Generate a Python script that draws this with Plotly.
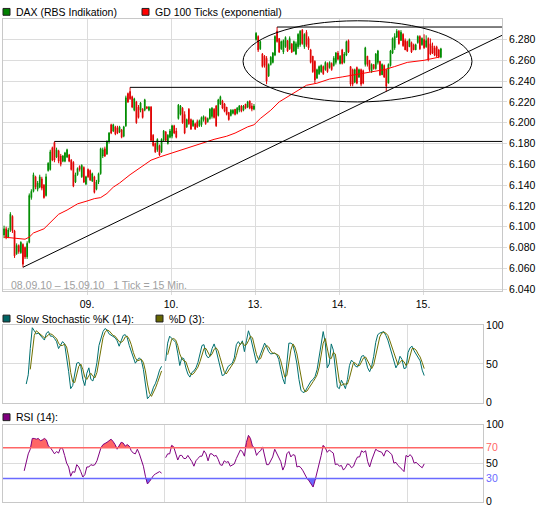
import plotly.graph_objects as go

W, H = 545, 516
FONT = "Liberation Sans, Arial, sans-serif"
GRID = "#dcdcdc"
FRAME = "#c8c8c8"
GREEN = "#008c00"
RED = "#e00000"

# 15 minute ticks, slot 0 = first tick of 08.09.10, 40 slots per trading day
opens = [
    6092, 6098, 6090, 6097, 6110, 6096, 6074, 6082, 6075, 6083,
    6080, 6071, 6085, 6128, 6134, 6148, 6136, 6138, 6146, 6140,
    6130, 6154, 6155, 6176, 6181, 6167, 6173, 6168, 6163, 6163,
    6167, 6169, 6164, 6162, 6143, 6150, 6158, 6148, 6157, 6141,
    6155, 6154, 6144, 6148, 6136, 6143, 6151, 6168, 6175, 6170,
    6182, 6198, 6192, 6196, 6195, 6191, 6193, 6187, 6197, 6228,
    6230, 6225, 6212, 6220, 6215, 6212, 6213, 6212, 6215, 6212,
    6215, 6188, 6180, 6174, 6178, 6172, 6183, 6191, 6180, 6186,
    6187, 6197, 6192, 6204, 6208, 6214, 6208, 6196, 6213, 6203,
    6197, 6199, 6201, 6197, 6198, 6203, 6205, 6201, 6204, 6206,
    6213, 6216, 6207, 6218, 6221, 6218, 6215, 6210, 6207, 6209,
    6213, 6209, 6212, 6216, 6212, 6218, 6215, 6221, 6216, 6213,
    6280, 6283, 6271, 6266, 6264, 6262, 6245, 6256, 6258, 6265,
    6288, 6281, 6271, 6268, 6273, 6279, 6271, 6276, 6269, 6266,
    6273, 6275, 6289, 6273, 6287, 6281, 6270, 6264, 6259, 6243,
    6247, 6249, 6254, 6251, 6257, 6253, 6257, 6255, 6258, 6267,
    6257, 6270, 6258, 6265, 6279, 6254, 6251, 6239, 6253, 6244,
    6251, 6250, 6256, 6264, 6260, 6249, 6256, 6252, 6258, 6259,
    6246, 6255, 6251, 6238, 6255, 6267, 6272, 6282, 6288, 6279,
    6285, 6279, 6278, 6273, 6277, 6275, 6270, 6277, 6283, 6275,
    6280, 6273, 6281, 6276, 6274, 6272, 6273, 6270, 6263,
]
highs = [
    6101, 6100, 6099, 6114, 6111, 6097, 6084, 6083, 6086, 6084,
    6081, 6086, 6132, 6136, 6152, 6149, 6144, 6150, 6148, 6141,
    6151, 6162, 6174, 6177, 6182, 6176, 6174, 6170, 6169, 6172,
    6175, 6170, 6165, 6163, 6152, 6157, 6159, 6160, 6158, 6149,
    6156, 6155, 6152, 6149, 6145, 6152, 6176, 6176, 6177, 6183,
    6191, 6199, 6199, 6197, 6197, 6197, 6194, 6197, 6226, 6229,
    6234, 6226, 6224, 6221, 6217, 6220, 6214, 6223, 6216, 6216,
    6216, 6189, 6181, 6185, 6179, 6185, 6193, 6192, 6189, 6194,
    6198, 6198, 6195, 6218, 6217, 6215, 6211, 6204, 6214, 6204,
    6203, 6200, 6203, 6203, 6206, 6207, 6206, 6205, 6214, 6215,
    6214, 6217, 6223, 6226, 6222, 6219, 6215, 6210, 6213, 6213,
    6213, 6215, 6217, 6217, 6217, 6218, 6221, 6221, 6219, 6218,
    6287, 6284, 6279, 6267, 6265, 6264, 6257, 6264, 6268, 6284,
    6292, 6281, 6279, 6280, 6283, 6279, 6283, 6276, 6279, 6278,
    6286, 6289, 6290, 6286, 6289, 6283, 6271, 6264, 6260, 6252,
    6255, 6256, 6255, 6259, 6258, 6259, 6258, 6264, 6268, 6269,
    6265, 6271, 6268, 6279, 6280, 6254, 6252, 6252, 6254, 6252,
    6252, 6251, 6273, 6264, 6260, 6257, 6256, 6267, 6270, 6259,
    6257, 6256, 6251, 6257, 6270, 6282, 6286, 6290, 6289, 6289,
    6286, 6281, 6279, 6281, 6278, 6276, 6276, 6284, 6284, 6282,
    6285, 6284, 6282, 6281, 6277, 6274, 6274, 6271, 6272,
]
lows = [
    6089, 6088, 6089, 6095, 6094, 6070, 6073, 6074, 6074, 6061,
    6069, 6069, 6084, 6126, 6133, 6136, 6134, 6137, 6135, 6127,
    6129, 6153, 6154, 6163, 6162, 6166, 6161, 6158, 6162, 6162,
    6166, 6162, 6154, 6138, 6142, 6149, 6153, 6147, 6142, 6140,
    6147, 6144, 6143, 6132, 6135, 6141, 6150, 6166, 6167, 6169,
    6180, 6189, 6191, 6188, 6189, 6190, 6185, 6186, 6196, 6219,
    6222, 6214, 6211, 6199, 6204, 6210, 6204, 6211, 6213, 6211,
    6182, 6177, 6171, 6172, 6168, 6171, 6182, 6182, 6179, 6185,
    6185, 6189, 6185, 6203, 6207, 6199, 6189, 6195, 6198, 6193,
    6196, 6193, 6195, 6196, 6196, 6201, 6198, 6200, 6203, 6204,
    6204, 6196, 6206, 6217, 6213, 6210, 6207, 6202, 6206, 6208,
    6207, 6208, 6210, 6210, 6211, 6213, 6214, 6213, 6211, 6212,
    6279, 6268, 6270, 6253, 6253, 6237, 6244, 6255, 6257, 6264,
    6277, 6267, 6270, 6266, 6272, 6268, 6270, 6267, 6268, 6265,
    6271, 6273, 6275, 6271, 6273, 6270, 6257, 6248, 6238, 6242,
    6246, 6248, 6246, 6250, 6248, 6252, 6250, 6254, 6256, 6260,
    6256, 6256, 6257, 6264, 6267, 6235, 6235, 6238, 6237, 6243,
    6235, 6237, 6254, 6254, 6249, 6248, 6251, 6251, 6256, 6245,
    6246, 6243, 6230, 6238, 6254, 6266, 6270, 6282, 6275, 6279,
    6273, 6270, 6268, 6273, 6267, 6270, 6270, 6276, 6270, 6274,
    6271, 6272, 6259, 6265, 6266, 6264, 6263, 6262, 6262,
]
closes = [
    6098, 6090, 6097, 6112, 6096, 6072, 6082, 6076, 6085, 6064,
    6071, 6084, 6130, 6134, 6150, 6138, 6142, 6148, 6137, 6128,
    6148, 6161, 6172, 6164, 6164, 6174, 6163, 6160, 6168, 6171,
    6174, 6163, 6155, 6139, 6150, 6156, 6155, 6159, 6143, 6148,
    6148, 6145, 6151, 6133, 6143, 6151, 6175, 6174, 6168, 6182,
    6190, 6190, 6198, 6189, 6190, 6196, 6186, 6196, 6224, 6220,
    6223, 6215, 6223, 6200, 6205, 6219, 6205, 6222, 6214, 6215,
    6183, 6178, 6172, 6184, 6169, 6184, 6192, 6183, 6188, 6192,
    6197, 6190, 6186, 6217, 6216, 6200, 6190, 6203, 6199, 6194,
    6202, 6194, 6196, 6202, 6205, 6206, 6199, 6204, 6213, 6214,
    6205, 6197, 6222, 6225, 6214, 6211, 6208, 6203, 6212, 6212,
    6208, 6214, 6216, 6211, 6216, 6214, 6220, 6214, 6213, 6216,
    6286, 6270, 6278, 6254, 6255, 6240, 6256, 6263, 6267, 6283,
    6278, 6268, 6278, 6279, 6282, 6269, 6281, 6268, 6278, 6276,
    6285, 6288, 6276, 6285, 6275, 6272, 6258, 6249, 6241, 6251,
    6254, 6255, 6247, 6258, 6249, 6258, 6251, 6262, 6267, 6261,
    6264, 6257, 6266, 6278, 6268, 6237, 6237, 6251, 6238, 6251,
    6237, 6238, 6272, 6256, 6251, 6256, 6252, 6266, 6269, 6246,
    6256, 6244, 6235, 6256, 6269, 6281, 6283, 6288, 6276, 6287,
    6274, 6270, 6269, 6280, 6268, 6270, 6275, 6283, 6271, 6281,
    6272, 6279, 6261, 6266, 6267, 6265, 6264, 6263, 6271,
]

# GD 100 Ticks (exponential), read at these slots
ema_slots = [0, 5, 10, 12, 14, 19, 22, 26, 30, 35, 40, 43, 46, 49, 52, 55, 60, 70, 74, 80,
             85, 93, 100, 106, 110, 116, 119, 122, 127, 131, 136, 141, 144, 149, 155, 161,
             173, 181, 186, 192, 200, 207]
ema_values = [6090, 6089, 6088, 6090, 6094, 6098, 6104, 6112, 6116, 6122, 6125, 6127, 6128,
              6132, 6138, 6142, 6150, 6164, 6167, 6171, 6174, 6179, 6184, 6187, 6190, 6196,
              6198, 6204, 6212, 6220, 6226, 6232, 6236, 6238, 6242, 6244, 6248, 6251, 6254,
              6258, 6260, 6263]

# slow stochastic %K (from slot 11), %D (from slot 13), RSI (from slot 10)
k_start = 11
stoch_k = [
    24, 36, 70, 97, 93, 89, 90, 87, 85, 81,
    90, 92, 86, 86, 83, 79, 70, 74, 79, 76,
    60, 40, 18, 22, 37, 51, 52, 47, 30, 22,
    38, 45, 30, 28, 38, 52, 74, 85, 92, 96,
    94, 89, 87, 86, 84, 80, 73, 80, 87, 88,
    84, 74, 66, 56, 51, 55, 58, 55, 43, 24,
    5, 8, 12, 20, 25, 33, 42, 47, None, 54,
    77, 86, 83, 81, 78, 64, 48, 58, 57, 45,
    37, 33, 39, 41, 45, 52, 62, 74, 75, 62,
    58, 60, 70, 76, 68, 57, 48, 35, 36, 41,
    47, 49, 51, 58, 75, 79, 75, 80, 66, 80,
    93, 85, 73, 61, 51, 56, 64, 72, 77, 72,
    66, 63, 64, 64, 62, 56, 43, 31, 24, 50,
    77, 77, 75, 64, 50, 30, 16, 13, 14, 19,
    24, 28, 30, 34, 43, 60, 78, 92, 78, 45,
    50, 76, 68, 44, 20, 18, 29, 24, 18, 30,
    48, 55, 52, 47, 46, 52, 60, 61, 55, 45,
    40, 47, 60, 78, 88, 90, 91, 92, 87, 81,
    72, 64, 53, 45, 50, 60, 56, 44, 45, 65,
    71, 73, 67, 63, 59, 54, 42, 35,
]
d_start = 13
stoch_d = [
    43, 68, 87, 93, 91, 89, 87, 84,
    85, 88, 89, 88, 85, 83, 77, 74, 74, 76,
    72, 59, 39, 27, 26, 37, 47, 50, 43, 33,
    30, 35, 38, 34, 32, 39, 55, 70, 84, 91,
    94, 93, 90, 87, 86, 83, 79, 78, 80, 85,
    86, 82, 75, 65, 58, 54, 55, 56, 52, 41,
    24, 12, 8, 13, 19, 26, 33, 41, None, None,
    62, 72, 82, 83, 81, 74, 63, 57, 54, 53,
    46, 38, 36, 38, 42, 46, 53, 63, 70, 70,
    65, 60, 63, 69, 71, 67, 58, 47, 40, 37,
    41, 46, 49, 53, 61, 71, 76, 78, 74, 75,
    80, 86, 84, 73, 62, 56, 57, 64, 71, 74,
    72, 67, 64, 64, 63, 61, 54, 43, 33, 35,
    50, 68, 76, 72, 63, 48, 32, 20, 14, 15,
    19, 24, 27, 31, 36, 46, 60, 77, 83, 72,
    58, 57, 65, 63, 44, 27, 22, 24, 24, 24,
    32, 44, 52, 51, 48, 48, 53, 58, 59, 54,
    47, 44, 49, 62, 75, 85, 90, 91, 90, 87,
    80, 72, 63, 54, 49, 52, 55, 53, 48, 51,
    60, 70, 70, 68, 63, 59, 52, 44,
]
rsi_start = 10
rsi = [
    40,
    50, 62, 68, 82, 82, 81, 82, 79, 80, 82,
    80, 72, 70, 66, 62, 65, 63, 70, 69, 60,
    50, 45, 33, 39, 38, 48, 45, 39, 32, 35,
    45, 45, 48, 47, 48, 53, 61, 70, 74, 75,
    77, 79, 81, 78, 74, 68, 73, 77, 76, 72,
    74, 72, 66, 63, 62, 68, 62, 55, 46, 33,
    23, 26, 31, 34, 36, 37, 39, 37, None, 57,
    62, 62, 73, 71, 63, 54, 60, 60, 56, 56,
    60, 56, 52, 46, 53, 56, 59, 59, 66, 62,
    53, 62, 62, 59, 60, 55, 48, 47, 53, 51,
    52, 46, 47, 49, 56, 61, 67, 65, 59, 77,
    86, 82, 72, 70, 60, 64, 66, 71, 60, 48,
    48, 54, 58, 68, 62, 57, 52, 41, 47, 62,
    65, 58, 61, 60, 45, 46, 44, 40, 34, 30,
    27, 23, 19, 28, 38, 48, 60, 73, 70, 64,
    67, 65, 63, 48, 49, 46, 47, 41, 44, 49,
    48, 44, 46, 53, 58, 58, 66, 64, 66, 52,
    45, 54, 62, 68, 66, 65, 64, 59, 66, 66,
    63, 61, 50, 51, 47, 45, 42, 39, 60, 58,
    61, 58, 50, 51, 48, 46, 44, 49,
]

day_labels = ["09.", "10.", "13.", "14.", "15."]
day_starts = [40, 80, 120, 160, 200]
price_ticks = list(range(6040, 6281, 20))

# chart drawings: horizontal levels (value, first slot), trend line, ellipse
levels = [6182, 6234, 6292]
level_starts = [24, 60, 130]
trend_from = (9, 6061)
trend_to_value = 6284
ellipse_slots = (113.8, 222.8)
ellipse_values = (6220, 6298)

x_range = [-0.5, 237.1]


def px(x):
    return x / W


def py(y):
    return 1 - y / H


slots = list(range(len(closes)))
grid_x = [d - 0.5 for d in day_starts]

fig = go.Figure()

fig.add_trace(go.Candlestick(
    x=slots, open=opens, high=highs, low=lows, close=closes,
    increasing=dict(line=dict(color=GREEN, width=1), fillcolor=GREEN),
    decreasing=dict(line=dict(color=RED, width=1), fillcolor=RED),
    whiskerwidth=0, hoverinfo="skip", xaxis="x", yaxis="y",
))
fig.add_trace(go.Scatter(
    x=ema_slots, y=ema_values, mode="lines",
    line=dict(color="#ff0000", width=1), hoverinfo="skip", xaxis="x", yaxis="y",
))

# stochastic
fig.add_trace(go.Scatter(
    x=list(range(k_start, k_start + len(stoch_k))), y=stoch_k, mode="lines",
    line=dict(color="#007070", width=1), hoverinfo="skip", xaxis="x2", yaxis="y2",
))
fig.add_trace(go.Scatter(
    x=list(range(d_start, d_start + len(stoch_d))), y=stoch_d, mode="lines",
    line=dict(color="#707000", width=1), hoverinfo="skip", xaxis="x2", yaxis="y2",
))

# RSI with overbought / oversold fills
rsi_x = list(range(rsi_start, rsi_start + len(rsi)))
rsi_hi = [max(v, 70) if v is not None else 70 for v in rsi]
rsi_lo = [min(v, 30) if v is not None else 30 for v in rsi]
for base, band, col in [(70, rsi_hi, "#ff6666"), (30, rsi_lo, "#6a6aff")]:
    fig.add_trace(go.Scatter(
        x=rsi_x, y=[base] * len(rsi_x), mode="lines", line=dict(width=0),
        hoverinfo="skip", xaxis="x3", yaxis="y3",
    ))
    fig.add_trace(go.Scatter(
        x=rsi_x, y=band, mode="lines", line=dict(width=0), fill="tonexty",
        fillcolor=col, hoverinfo="skip", xaxis="x3", yaxis="y3",
    ))
fig.add_trace(go.Scatter(
    x=rsi_x, y=rsi, mode="lines",
    line=dict(color="#800080", width=1), hoverinfo="skip", xaxis="x3", yaxis="y3",
))

shapes = []
for lvl, s0 in zip(levels, level_starts):
    shapes.append(dict(type="line", xref="x", yref="y", x0=s0, x1=x_range[1],
                       y0=lvl, y1=lvl, line=dict(color="black", width=1)))
shapes.append(dict(type="line", xref="x", yref="y", x0=trend_from[0], y0=trend_from[1],
                   x1=x_range[1], y1=trend_to_value, line=dict(color="black", width=1)))
shapes.append(dict(type="circle", xref="x", yref="y",
                   x0=ellipse_slots[0], x1=ellipse_slots[1],
                   y0=ellipse_values[0], y1=ellipse_values[1],
                   line=dict(color="black", width=1)))
for yv, col in [(70, "#ff6666"), (30, "#6a6aff")]:
    shapes.append(dict(type="line", xref="x3 domain", yref="y3", x0=0, x1=1, y0=yv, y1=yv,
                       line=dict(color=col, width=1.5)))

annotations = []


def legend_item(x, y, color, text):
    shapes.append(dict(type="rect", xref="paper", yref="paper",
                       x0=px(x), x1=px(x + 7), y0=py(y + 3.5), y1=py(y - 3.5),
                       fillcolor=color, line=dict(color="#202020", width=1)))
    annotations.append(dict(xref="paper", yref="paper", x=px(x + 11), y=py(y),
                            xanchor="left", yanchor="middle", showarrow=False,
                            text=text, font=dict(family=FONT, size=10.5, color="black")))


legend_item(3, 6, "#008000", "DAX (RBS Indikation)")
legend_item(142, 6, "#ff0000", "GD 100 Ticks (exponential)")
legend_item(3, 320, "#006464", "Slow Stochastic %K (14):")
legend_item(156, 320, "#666600", "%D (3):")
legend_item(3, 421, "#800080", "RSI (14):")

annotations.append(dict(xref="paper", yref="paper", x=px(9), y=py(286),
                        xanchor="left", yanchor="middle", showarrow=False,
                        text="08.09.10 – 15.09.10\u00a0\u00a0\u00a01 Tick = 15 Min.",
                        font=dict(family=FONT, size=10.5, color="#a0a0a0")))

axis_common = dict(showgrid=True, gridcolor=GRID, gridwidth=1, zeroline=False,
                   showline=True, linecolor=FRAME, mirror=True, fixedrange=True,
                   tickfont=dict(family=FONT, size=10.5, color="black"))

fig.update_layout(
    width=W, height=H, autosize=False,
    margin=dict(l=0, r=0, t=0, b=0),
    paper_bgcolor="white", plot_bgcolor="white",
    showlegend=False, boxgap=0.5,
    shapes=shapes, annotations=annotations,
    xaxis=dict(domain=[px(3), px(502)], range=x_range, anchor="y",
               tickmode="array", tickvals=grid_x, ticktext=day_labels,
               ticks="outside", ticklen=3, tickcolor=GRID,
               rangeslider=dict(visible=False), **axis_common),
    yaxis=dict(domain=[py(292), py(13)], range=[6038, 6300], anchor="x", side="right",
               tickmode="array", tickvals=price_ticks,
               ticktext=[f"{v:,}".replace(",", ".") for v in price_ticks],
               ticks="outside", ticklen=4, tickcolor=GRID, **axis_common),
    xaxis2=dict(domain=[px(3), px(483)], range=x_range, anchor="y2",
                tickmode="array", tickvals=grid_x, showticklabels=False, **axis_common),
    yaxis2=dict(domain=[py(406), py(327)], range=[0, 100], anchor="x2", side="right",
                tickmode="array", tickvals=[0, 50, 100], ticktext=["0", "50", "100"],
                **axis_common),
    xaxis3=dict(domain=[px(3), px(483)], range=x_range, anchor="y3",
                tickmode="array", tickvals=grid_x, showticklabels=False, **axis_common),
    yaxis3=dict(domain=[py(507.5), py(428.5)], range=[0, 100], anchor="x3", side="right",
                tickmode="array", tickvals=[0, 30, 50, 70, 100],
                ticktext=["0", '<span style="color:#6a6aff">30</span>', "50",
                          '<span style="color:#ff6666">70</span>', "100"],
                **axis_common),
)

# the page's default body margin would push the chart 8px down/right
fig.write_html("out.html", config={"displayModeBar": False},
               post_script="document.body.style.margin = '0';")
